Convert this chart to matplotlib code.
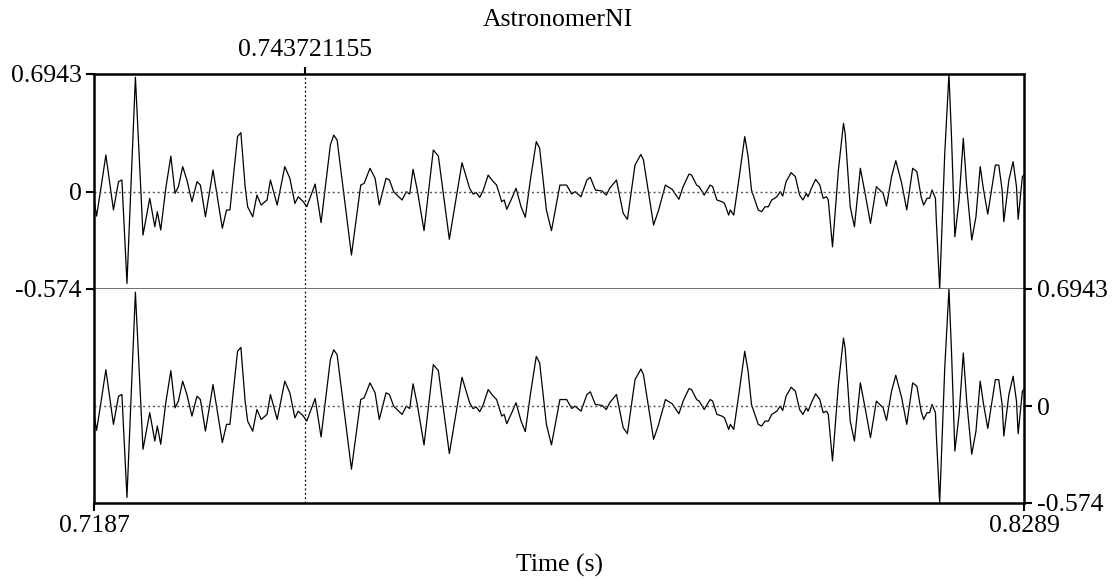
import numpy as np
import matplotlib.pyplot as plt

plt.rcParams['font.family'] = ['Liberation Serif', 'DejaVu Serif']

# waveform (both channels look identical)
t_ms = [718.7, 719.0, 719.6, 720.1, 721.0, 721.6, 722.0, 722.6, 723.6, 724.5,
        725.3, 725.9, 726.2, 726.6, 727.2, 727.8, 728.3, 728.7, 729.2, 729.7,
        730.3, 730.9, 731.3, 731.9, 732.8, 733.9, 734.4, 734.8, 735.7, 736.1,
        736.6, 736.9, 737.5, 738.0, 738.5, 739.2, 739.6, 740.4, 741.3, 741.9,
        742.5, 742.9, 743.5, 743.9, 744.9, 745.6, 746.7, 747.1, 747.5, 749.2,
        750.3, 750.7, 751.4, 752.0, 752.5, 753.3, 753.7, 754.2, 754.8, 755.2,
        755.7, 756.1, 756.5, 757.0, 757.8, 758.9, 759.5, 760.8, 762.3, 763.2,
        763.6, 764.0, 764.4, 764.8, 765.4, 765.9, 766.4, 767.0, 767.3, 767.6,
        768.2, 768.7, 769.3, 769.8, 770.4, 771.1, 771.5, 772.3, 772.9, 773.5,
        773.9, 774.7, 775.3, 775.7, 776.4, 777.1, 777.5, 778.1, 778.9, 779.4,
        779.8, 780.6, 781.4, 781.9, 782.8, 783.5, 783.8, 785.0, 785.6, 786.4,
        787.2, 788.0, 788.5, 789.2, 789.5, 790.1, 790.4, 791.0, 791.7, 792.0,
        792.5, 793.1, 793.4, 793.9, 794.1, 794.5, 795.1, 795.8, 796.2, 796.6,
        797.4, 797.8, 798.2, 798.6, 799.0, 799.6, 800.0, 800.3, 800.7, 801.3,
        801.8, 802.3, 802.7, 803.1, 803.3, 803.7, 804.2, 804.7, 805.1, 805.5,
        805.7, 806.2, 806.9, 807.5, 807.7, 808.3, 808.8, 809.5, 810.1,
        810.7, 811.4, 811.8, 812.2, 812.6, 813.2, 813.7, 814.4, 815.0, 815.7,
        816.2, 816.7, 817.0, 817.4, 817.7, 818.0, 818.4, 818.5, 818.9, 819.3,
        819.5, 820.0, 820.3, 820.7, 821.2, 821.7, 822.1, 822.7, 823.2, 823.7,
        824.1, 824.6, 825.1, 825.5, 825.9, 826.3, 826.5, 827.1, 827.6, 828.0,
        828.2, 828.7, 828.9]
amp = [-0.050, -0.144, 0.049, 0.216, -0.108, 0.059, 0.069, -0.541, 0.675, -0.256,
       -0.039, -0.207, -0.118, -0.226, 0.020, 0.210, -0.010, 0.030, 0.148, 0.069,
       -0.059, 0.059, 0.039, -0.148, 0.128, -0.216, -0.108, -0.108, 0.325, 0.348,
       0.030, -0.089, -0.148, -0.020, -0.079, -0.049, 0.069, -0.079, 0.148, 0.079,
       -0.069, -0.030, -0.059, -0.089, 0.045, -0.183, 0.275, 0.334, 0.305, -0.374,
       0.039, 0.049, 0.138, 0.079, -0.079, 0.079, 0.069, 0.000, -0.030, -0.049,
       0.000, -0.014, 0.132, 0.010, -0.230, 0.246, 0.210, -0.281, 0.171, 0.020,
       -0.014, -0.006, -0.033, 0.006, 0.098, 0.065, 0.039, -0.059, -0.049, -0.104,
       -0.039, 0.020, -0.089, -0.151, 0.069, 0.295, 0.256, -0.108, -0.230, -0.069,
       0.039, 0.039, -0.014, 0.000, -0.030, 0.069, 0.085, 0.010, 0.004, -0.020,
       0.020, 0.069, -0.128, -0.163, 0.157, 0.220, 0.187, -0.197, -0.108, 0.039,
       0.014, -0.045, 0.030, 0.104, 0.098, 0.039, 0.030, -0.020, 0.039, 0.030,
       -0.049, -0.059, -0.069, -0.138, -0.108, -0.138, 0.069, 0.325, 0.207, 0.010,
       -0.108, -0.118, -0.089, -0.089, -0.049, -0.030, 0.000, -0.026, 0.059, 0.112,
       0.089, -0.020, -0.049, -0.010, -0.030, 0.020, 0.073, 0.039, -0.039, -0.030,
       -0.049, -0.325, 0.128, 0.403, 0.344, -0.089, -0.207, 0.138, -0.020,
       -0.187, 0.030, 0.010, -0.010, -0.085, 0.089, 0.183, 0.049, -0.108, 0.138,
       0.118, -0.030, -0.079, -0.039, -0.039, 0.010, -0.039, -0.167, -0.574, -0.030,
       0.226, 0.6943, 0.325, -0.266, -0.049, 0.315, 0.030, -0.285, -0.148, 0.148,
       0.010, -0.132, 0.030, 0.157, 0.157, 0.010, -0.177, 0.069, 0.177, 0.030,
       -0.163, 0.089, 0.100]

t_start, t_end = 0.7187, 0.8289
y_min, y_max = -0.574, 0.6943
cursor = 0.743721155
y_ticks = [y_max, 0, y_min]
y_labels = ['0.6943', '0', '-0.574']
title = 'AstronomerNI'

t = np.array(t_ms) / 1000.0
a = np.array(amp)

fs = 18.5
fig = plt.figure(figsize=(11.13, 5.79), dpi=100)
ax1 = fig.add_axes([0.0845, 0.5009, 0.8356, 0.3713])
ax2 = fig.add_axes([0.0845, 0.1313, 0.8356, 0.3696])

for ax in (ax1, ax2):
    ax.plot(t, a, color='black', lw=0.9)
    ax.axhline(0, color='#555555', lw=1, ls=(0, (1.5, 2)))
    ax.axvline(cursor, color='black', lw=0.9, ls=(0, (1.5, 2)))
    ax.set_xlim(t_start, t_end)
    ax.set_ylim(y_min, y_max)
    for s in ax.spines.values():
        s.set_linewidth(1.8)
        s.set_color('black')
    ax.tick_params(labelsize=fs, width=1.5, length=6, direction='out', pad=3)

# top channel
ax1.spines['bottom'].set_linewidth(1.2)
ax1.spines['bottom'].set_color('#555555')
ax1.set_yticks(y_ticks)
ax1.set_yticklabels(y_labels)
ax1.xaxis.set_ticks_position('top')
ax1.set_xticks([cursor])
ax1.set_xticklabels(['0.743721155'])
ax1.tick_params(axis='x', pad=4.5, length=5)
fig.text(0.5015, 1 - 26 / 579, title, fontsize=fs, ha='center', va='baseline')

# bottom channel
ax2.spines['top'].set_visible(False)
ax2.yaxis.set_ticks_position('right')
ax2.set_yticks(y_ticks)
ax2.set_yticklabels(y_labels)
ax2.set_xticks([t_start, t_end])
ax2.set_xticklabels(['0.7187', '0.8289'])
ax2.set_xlabel('Time (s)', fontsize=fs, labelpad=12)

fig.savefig('out.png', dpi=100)
